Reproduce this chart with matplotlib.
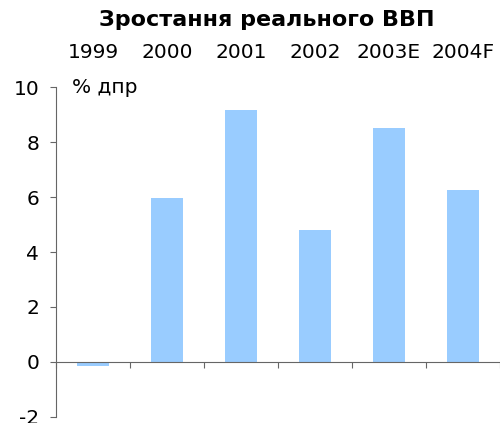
import matplotlib

matplotlib.use("Agg")
import matplotlib.pyplot as plt
import matplotlib.transforms as mtransforms

categories = ["1999", "2000", "2001", "2002", "2003E", "2004F"]
gdp_growth = [-0.15, 5.95, 9.15, 4.8, 8.5, 6.25]
y_ticks = [-2, 0, 2, 4, 6, 8, 10]

BAR_COLOR = "#99CCFF"
AXIS_COLOR = "#666666"
FS = 14.5

fig = plt.figure(figsize=(5.0, 4.23), dpi=100)
ax = fig.add_axes([0.112, 0.0142, 0.888, 0.7801])

x = list(range(len(categories)))
ax.bar(x, gdp_growth, width=0.42, color=BAR_COLOR, zorder=2)

ax.set_xlim(-0.5, len(categories) - 0.5)
ax.set_ylim(-2, 10)
ax.set_yticks(y_ticks)
ax.set_yticklabels([str(v) for v in y_ticks], fontsize=FS)

for side in ("top", "right"):
    ax.spines[side].set_visible(False)
ax.spines["bottom"].set_position(("data", 0))
ax.spines["bottom"].set_color(AXIS_COLOR)
ax.spines["left"].set_color(AXIS_COLOR)
ax.spines["bottom"].set_zorder(3)

ax.set_xticks([i - 0.5 for i in range(len(categories) + 1)])
ax.set_xticklabels([])
ax.tick_params(axis="x", direction="out", length=4, color=AXIS_COLOR)
ax.tick_params(axis="y", direction="out", length=4, color=AXIS_COLOR, pad=8)

# category labels above the plot
trans = mtransforms.blended_transform_factory(ax.transData, fig.transFigure)
for i, cat in enumerate(categories):
    ax.text(i, 1 - 52 / 423, cat, transform=trans, ha="center", va="center",
            fontsize=FS)

ax.text(0.036, 10, "% дпр", transform=mtransforms.blended_transform_factory(
    ax.transAxes, ax.transData), ha="left", va="center", fontsize=FS)

fig.text(267 / 500, 1 - 20 / 423, "Зростання реального ВВП", ha="center",
         va="center", fontsize=16, fontweight="bold")

fig.savefig("out.png", dpi=100)
